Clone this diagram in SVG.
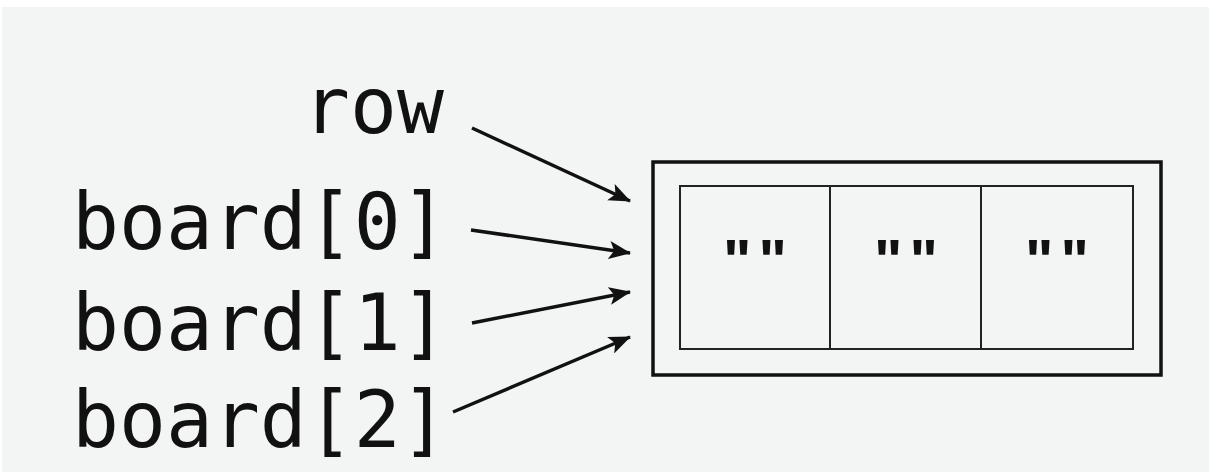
<svg xmlns="http://www.w3.org/2000/svg" width="1209" height="472" viewBox="0 0 1209 472">
  <style>
    .label { font-family: "DejaVu Sans Mono", "Liberation Mono", monospace; font-size: 78px; fill: #111; }
    .cell-text { font-family: "Liberation Sans", Arial, sans-serif; font-size: 60px; font-weight: bold; fill: #111; letter-spacing: 7px; }
    .outer { fill: none; stroke: #111; stroke-width: 3.5; }
    .inner { fill: none; stroke: #222; stroke-width: 2; }
    .arrow { fill: none; stroke: #111; stroke-width: 3.5; marker-end: url(#head); }
  </style>
  <defs>
    <marker id="head" markerWidth="24" markerHeight="18" refX="21" refY="9" orient="auto" markerUnits="userSpaceOnUse">
      <path d="M0,0 L22,9 L0,18 L5,9 Z" fill="#111"/>
    </marker>
  </defs>

  <!-- page -->
  <rect x="0" y="0" width="1209" height="472" fill="#ffffff"/>
  <rect x="2" y="7" width="1207" height="465" fill="#f2f5f3"/>

  <!-- variable names -->
  <g id="label-row"><text class="label" x="444" y="133" text-anchor="end">row</text></g>
  <g id="label-board0"><text class="label" x="72" y="249">board[0]</text></g>
  <g id="label-board1"><text class="label" x="72" y="350">board[1]</text></g>
  <g id="label-board2"><text class="label" x="72" y="447">board[2]</text></g>

  <!-- the shared list object -->
  <g id="list-object">
    <rect class="outer" x="653" y="162" width="508" height="213"/>
    <rect class="inner" x="680" y="186" width="453" height="163"/>
    <line class="inner" x1="830" y1="186" x2="830" y2="349"/>
    <line class="inner" x1="981" y1="186" x2="981" y2="349"/>
  </g>
  <g id="cell-0"><text class="cell-text" x="723" y="281">""</text></g>
  <g id="cell-1"><text class="cell-text" x="874" y="281">""</text></g>
  <g id="cell-2"><text class="cell-text" x="1025" y="281">""</text></g>

  <!-- references -->
  <g id="connectors">
    <line class="arrow" x1="472" y1="128" x2="630" y2="201"/>
    <line class="arrow" x1="471" y1="230" x2="630" y2="253"/>
    <line class="arrow" x1="472" y1="323" x2="630" y2="292"/>
    <line class="arrow" x1="453" y1="412" x2="630" y2="337"/>
  </g>
</svg>
